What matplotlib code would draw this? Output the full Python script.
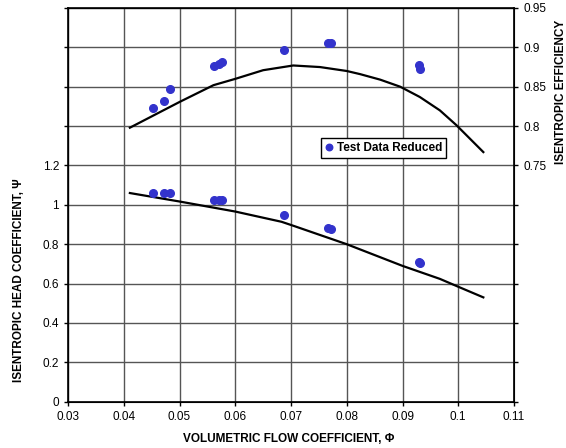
"""Compressor performance: head coefficient and efficiency vs flow coefficient"""
import numpy as np
from matplotlib import pyplot as plt

plt.rcParams['font.family'] = ['Liberation Sans', 'DejaVu Sans']

# test data (reduced)
phi_test = [0.0453, 0.0472, 0.0483, 0.0562, 0.0571, 0.0577, 0.0687, 0.0766, 0.0771, 0.0929, 0.0931]
psi_test = [1.061, 1.058, 1.058, 1.027, 1.024, 1.024, 0.949, 0.880, 0.879, 0.710, 0.707]
eff_test = [0.823, 0.832, 0.847, 0.876, 0.879, 0.881, 0.897, 0.905, 0.905, 0.877, 0.873]

# prediction curves
phi_psi_curve = [0.0411, 0.050, 0.060, 0.0683, 0.0705, 0.080, 0.090, 0.0967, 0.100, 0.1045]
psi_curve = [1.060, 1.017, 0.966, 0.914, 0.893, 0.800, 0.690, 0.624, 0.584, 0.530]

phi_eff_curve = [0.0411, 0.0501, 0.0561, 0.0600, 0.0650, 0.0704, 0.0752, 0.0800, 0.0824,
                 0.0860, 0.0896, 0.0931, 0.0967, 0.0997, 0.1021, 0.1045]
eff_curve = [0.798, 0.831, 0.852, 0.860, 0.871, 0.877, 0.875, 0.870, 0.866,
             0.859, 0.850, 0.837, 0.820, 0.801, 0.784, 0.767]

x_ticks = [0.03, 0.04, 0.05, 0.06, 0.07, 0.08, 0.09, 0.1, 0.11]
x_labels = ['0.03', '0.04', '0.05', '0.06', '0.07', '0.08', '0.09', '0.1', '0.11']
y_ticks = [0, 0.2, 0.4, 0.6, 0.8, 1.0, 1.2, 1.4, 1.6, 1.8, 2.0]
y_labels = ['0', '0.2', '0.4', '0.6', '0.8', '1', '1.2', '', '', '', '']
y2_ticks = [0.45, 0.5, 0.55, 0.6, 0.65, 0.7, 0.75, 0.8, 0.85, 0.9, 0.95]
y2_labels = ['', '', '', '', '', '', '0.75', '0.8', '0.85', '0.9', '0.95']

blue = '#3333cc'
fig = plt.figure(figsize=(5.66, 4.48), dpi=100)
ax = fig.add_axes([68 / 566, 1 - 401.7 / 448, 446 / 566, 393.7 / 448])
ax2 = ax.twinx()

ax.set_xlim(0.03, 0.11)
ax.set_ylim(0, 2)
ax.set_xticks(x_ticks)
ax.set_xticklabels(x_labels)
ax.set_yticks(y_ticks)
ax.set_yticklabels(y_labels)
ax.tick_params(labelsize=8.5, length=3, width=1, direction='out')
for s in ax.spines.values():
    s.set_linewidth(1.2)

# gridlines at the major ticks
for xv in x_ticks:
    ax.axvline(xv, color='#555555', lw=1, zorder=1)
for yv in y_ticks:
    ax.axhline(yv, color='#555555', lw=1, zorder=1)

ax.plot(phi_psi_curve, psi_curve, color='black', lw=1.6, zorder=3)
ax.plot(phi_test, psi_test, 'o', color=blue, ms=5.5, mec=blue, zorder=4)

ax2.set_ylim(0.45, 0.95)
ax2.set_yticks(y2_ticks)
ax2.set_yticklabels(y2_labels)
ax2.tick_params(labelsize=8.5, length=3, width=1, direction='out')
ax2.plot(phi_eff_curve, eff_curve, color='black', lw=1.6, zorder=3)
pts, = ax2.plot(phi_test, eff_test, 'o', color=blue, ms=5.5, mec=blue, zorder=4,
                label='Test Data Reduced')

leg = ax2.legend(handles=[pts], loc='upper left', bbox_to_anchor=(0.567, 0.671),
                 borderaxespad=0, fancybox=False, framealpha=1, handlelength=0.6,
                 handletextpad=0.4, borderpad=0.35, markerscale=0.85,
                 prop={'weight': 'bold', 'size': 8.5})
leg.get_frame().set_edgecolor('black')
leg.get_frame().set_linewidth(1)

fig.text(289 / 566, 1 - 439 / 448, 'VOLUMETRIC FLOW COEFFICIENT, \u03a6', ha='center', va='center',
         fontsize=8.5, fontweight='bold')
fig.text(19 / 566, 1 - 280 / 448, 'ISENTROPIC HEAD COEFFICIENT, \u03a8', ha='center', va='center',
         rotation=90, fontsize=8.5, fontweight='bold')
fig.text(561 / 566, 1 - 92 / 448, 'ISENTROPIC EFFICIENCY', ha='center', va='center',
         rotation=90, fontsize=8.5, fontweight='bold')

plt.savefig('out.png', dpi=100)
